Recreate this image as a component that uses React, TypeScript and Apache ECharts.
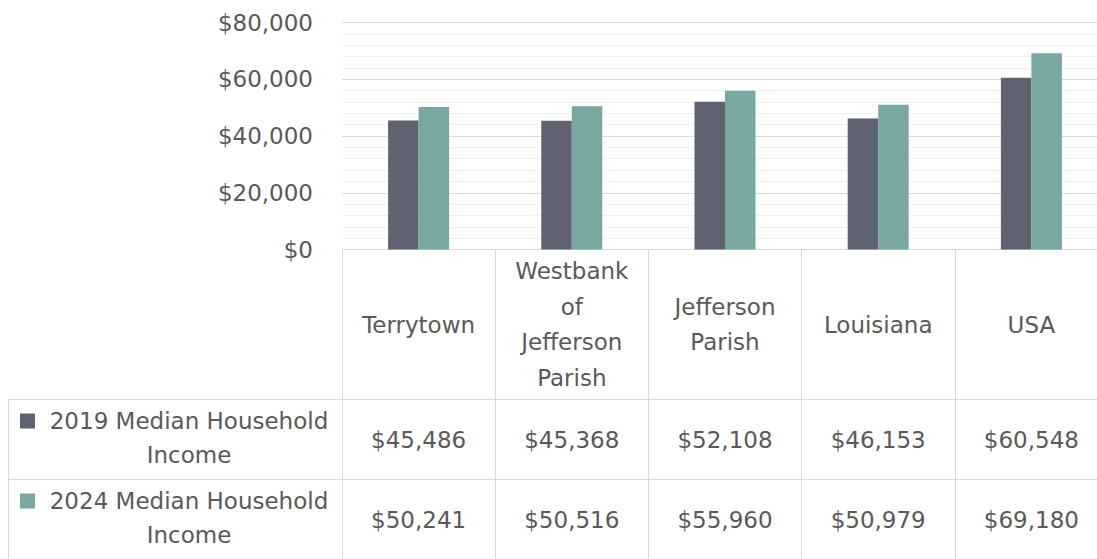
import React, { useEffect, useRef } from "react";
import * as echarts from "echarts";

const categories = ["Terrytown", "Westbank of Jefferson Parish", "Jefferson Parish", "Louisiana", "USA"];
const categoryLabels = ["Terrytown", "Westbank\nof\nJefferson\nParish", "Jefferson\nParish", "Louisiana", "USA"];
const seriesNames = ["2019 Median Household Income", "2024 Median Household Income"];
const seriesLegendText = ["2019 Median Household\nIncome", "2024 Median Household\nIncome"];
const income2019 = [45486, 45368, 52108, 46153, 60548];
const income2024 = [50241, 50516, 55960, 50979, 69180];
const colors = ["#5E6271", "#79A8A3"];

const FONT = "DejaVu Sans";
const TEXT = "#595959";
const LINE = "#D9D9D9";

const money = (v: number) => "$" + Math.round(v).toLocaleString("en-US");

export default function App() {
  const ref = useRef<HTMLDivElement>(null);
  useEffect(() => {
    if (!ref.current) return;
    const chart = echarts.init(ref.current, undefined, { renderer: "svg" });
    const gridLeft = 342;
    const gridTop = 22.5;
    const gridH = 227;
    const headerH = 150;
    const rowH = 80;
    const labelStyle = { fontFamily: FONT, fontSize: 23, color: TEXT };
    const tableAxis = (offset: number, len: number, margin: number, fmt: (v: string, i: number) => string) => ({
      type: "category",
      data: categories,
      position: "bottom",
      offset,
      axisLine: { show: true, lineStyle: { color: LINE, width: 1 } },
      axisTick: { show: true, length: len, interval: 0, lineStyle: { color: LINE, width: 1 } },
      axisLabel: { ...labelStyle, interval: 0, margin, verticalAlign: "middle", align: "center", lineHeight: 35.5, formatter: fmt },
      splitLine: { show: false },
    });
    const rows = [income2019, income2024];
    const graphics: any[] = [];
    const lx = 8.5;
    graphics.push({ type: "line", shape: { x1: lx, y1: gridTop + gridH + headerH, x2: gridLeft, y2: gridTop + gridH + headerH }, style: { stroke: LINE, lineWidth: 1 } });
    graphics.push({ type: "line", shape: { x1: lx, y1: gridTop + gridH + headerH + rowH, x2: gridLeft, y2: gridTop + gridH + headerH + rowH }, style: { stroke: LINE, lineWidth: 1 } });
    graphics.push({ type: "line", shape: { x1: lx, y1: gridTop + gridH + headerH, x2: lx, y2: 600 }, style: { stroke: LINE, lineWidth: 1 } });
    rows.forEach((_, i) => {
      const cy = gridTop + gridH + headerH + rowH * i + rowH / 2;
      graphics.push({
        type: "text",
        x: 189,
        y: cy - 2,
        style: { text: seriesLegendText[i], font: `23px "${FONT}"`, fill: TEXT, align: "center", verticalAlign: "middle", lineHeight: 34 },
      });
      graphics.push({ type: "rect", shape: { x: 20, y: cy - 26, width: 15, height: 15 }, style: { fill: colors[i] } });
    });

    chart.setOption({
      animation: false,
      grid: { left: gridLeft, right: 4, top: gridTop, height: gridH },
      xAxis: [
        tableAxis(0, headerH, headerH / 2, (_v: string, i: number) => categoryLabels[i]),
        tableAxis(headerH, rowH, rowH / 2, (_v: string, i: number) => money(income2019[i])),
        tableAxis(headerH + rowH, rowH, rowH / 2, (_v: string, i: number) => money(income2024[i])),
      ],
      yAxis: {
        type: "value",
        min: 0,
        max: 80000,
        interval: 20000,
        axisLine: { show: false },
        axisTick: { show: false },
        axisLabel: { ...labelStyle, margin: 29, formatter: (v: number) => money(v) },
        splitLine: { show: true, lineStyle: { color: LINE, width: 1 } },
        minorTick: { show: false, splitNumber: 5 },
        minorSplitLine: { show: true, lineStyle: { color: "#F0F0F0", width: 1 } },
      },
      series: [
        { name: seriesNames[0], type: "bar", data: income2019, barWidth: 30.5, barGap: "0%", itemStyle: { color: colors[0] } },
        { name: seriesNames[1], type: "bar", data: income2024, barWidth: 30.5, barGap: "0%", itemStyle: { color: colors[1] } },
      ],
      graphic: graphics,
    });
    return () => chart.dispose();
  }, []);
  return (
    <div style={{ position: "fixed", left: 0, top: 0, width: 1097, height: 559, overflow: "hidden", background: "#fff" }}>
      <div ref={ref} style={{ width: 1112, height: 559 }} />
    </div>
  );
}
